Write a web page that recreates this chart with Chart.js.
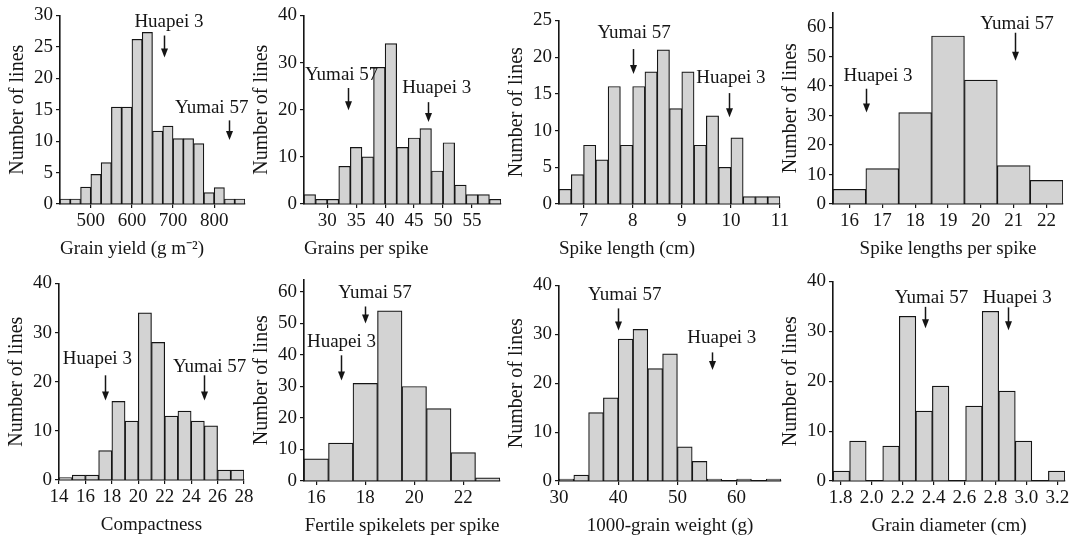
<!DOCTYPE html>
<html>
<head>
<meta charset="utf-8">
<script src="https://cdn.jsdelivr.net/npm/chart.js@4.4.1/dist/chart.umd.min.js"></script>
<style>
    html, body { margin: 0; padding: 0; background: #fff; overflow: hidden; }
    #wrap { position: relative; width: 1075px; height: 537px; }
    #wrap canvas { position: absolute; }
</style>
</head>
<body>
<div id="wrap"></div>
<script>
// =============================================
// DATA (bin centres, counts, ticks, parent values)
// =============================================
const parentNames = ['Huapei 3', 'Yumai 57'];

// Grain yield (g m-2)
const yieldBins = [437.5, 462.5, 487.5, 512.5, 537.5, 562.5, 587.5, 612.5, 637.5, 662.5, 687.5, 712.5, 737.5, 762.5, 787.5, 812.5, 837.5, 862.5];
const yieldCounts = [0.8, 0.8, 2.7, 4.7, 6.6, 15.4, 15.4, 26.2, 27.3, 11.6, 12.4, 10.4, 10.4, 9.6, 1.8, 2.6, 0.8, 0.8];
const yieldXTicks = ['500', '600', '700', '800'];
const yieldYTicks = [0, 5, 10, 15, 20, 25, 30];
const yieldParents = [679, 837];

// Grains per spike
const grainsBins = [27, 29, 31, 33, 35, 37, 39, 41, 43, 45, 47, 49, 51, 53, 55, 57, 59];
const grainsCounts = [2, 1, 1, 8, 12, 10, 29, 34, 12, 14, 16, 7, 13, 4, 2, 2, 1];
const grainsXTicks = ['30', '35', '40', '45', '50', '55'];
const grainsYTicks = [0, 10, 20, 30, 40];
const grainsParents = [47.4, 33.6];

// Spike length (cm)
const spikeLenBins = [6.625, 6.875, 7.125, 7.375, 7.625, 7.875, 8.125, 8.375, 8.625, 8.875, 9.125, 9.375, 9.625, 9.875, 10.125, 10.375, 10.625, 10.875];
const spikeLenCounts = [2, 4, 8, 6, 16, 8, 16, 18, 21, 13, 18, 8, 12, 5, 9, 1, 1, 1];
const spikeLenXTicks = ['7', '8', '9', '10', '11'];
const spikeLenYTicks = [0, 5, 10, 15, 20, 25];
const spikeLenParents = [9.96, 8.0];

// Spike lengths per spike
const perSpikeBins = [16, 17, 18, 19, 20, 21, 22];
const perSpikeCounts = [5, 12, 31, 57, 42, 13, 8];
const perSpikeXTicks = ['16', '17', '18', '19', '20', '21', '22'];
const perSpikeYTicks = [0, 10, 20, 30, 40, 50, 60];
const perSpikeParents = [16.5, 21.03];

// Compactness
const compactBins = [14.5, 15.5, 16.5, 17.5, 18.5, 19.5, 20.5, 21.5, 22.5, 23.5, 24.5, 25.5, 26.5, 27.5];
const compactCounts = [0.5, 1, 1, 6, 16, 12, 34, 28, 13, 14, 12, 11, 2, 2];
const compactXTicks = ['14', '16', '18', '20', '22', '24', '26', '28'];
const compactYTicks = [0, 10, 20, 30, 40];
const compactParents = [17.5, 25.0];

// Fertile spikelets per spike
const fertileBins = [16, 17, 18, 19, 20, 21, 22, 23];
const fertileCounts = [7, 12, 31, 54, 30, 23, 9, 1];
const fertileXTicks = ['16', '18', '20', '22'];
const fertileYTicks = [0, 10, 20, 30, 40, 50, 60];
const fertileParents = [17.0, 18.0];

// 1000-grain weight (g)
const tgwBins = [31.25, 33.75, 36.25, 38.75, 41.25, 43.75, 46.25, 48.75, 51.25, 53.75, 56.25, 58.75, 61.25, 63.75, 66.25];
const tgwCounts = [0.4, 1.2, 14, 17, 29, 31, 23, 26, 7, 4, 0.4, 0, 0.4, 0, 0.4];
const tgwXTicks = ['30', '40', '50', '60'];
const tgwYTicks = [0, 10, 20, 30, 40];
const tgwParents = [55.9, 40.0];

// Grain diameter (cm)
const diamBins = [1.804, 1.911, 2.018, 2.125, 2.232, 2.339, 2.446, 2.554, 2.661, 2.768, 2.875, 2.982, 3.089, 3.196];
const diamCounts = [2, 8, 0, 7, 33, 14, 19, 0, 15, 34, 18, 8, 0, 2];
const diamXTicks = ['1.8', '2.0', '2.2', '2.4', '2.6', '2.8', '3.0', '3.2'];
const diamYTicks = [0, 10, 20, 30, 40];
const diamParents = [2.883, 2.343];

// =============================================
// PANEL LAYOUT (plot box in page px, axis ranges, label placement)
// marks: [labelX, labelY, arrowTop, arrowTip] per parent, in data units
// =============================================
const panels = [
    { bins: yieldBins, counts: yieldCounts, xTicks: yieldXTicks, yTicks: yieldYTicks, parents: yieldParents,
      xMin: 425, xMax: 875, yMax: 30, title: 'Grain yield (g m\u207B\u00B2)', align: 'start',
      box: [60, 15, 245, 204], marks: [[690, 28.9, 26.8, 23.3], [794, 15.2, 13.3, 10.2]] },
    { bins: grainsBins, counts: grainsCounts, xTicks: grainsXTicks, yTicks: grainsYTicks, parents: grainsParents,
      xMin: 26, xMax: 60, yMax: 40, title: 'Grains per spike', align: 'start',
      box: [304, 15, 501, 204], marks: [[48.9, 24.6, 21.6, 17.4], [32.5, 27.3, 24.6, 19.9]] },
    { bins: spikeLenBins, counts: spikeLenCounts, xTicks: spikeLenXTicks, yTicks: spikeLenYTicks, parents: spikeLenParents,
      xMin: 6.5, xMax: 11, yMax: 25, title: 'Spike length (cm)', align: 'start',
      box: [559, 20, 780, 204], marks: [[10.0, 17.1, 15.1, 11.8], [8.03, 23.3, 21.1, 17.7]] },
    { bins: perSpikeBins, counts: perSpikeCounts, xTicks: perSpikeXTicks, yTicks: perSpikeYTicks, parents: perSpikeParents,
      xMin: 15.5, xMax: 22.5, yMax: 65, title: 'Spike lengths per spike', align: 'center',
      box: [833, 12, 1063, 204], marks: [[16.87, 43.5, 39.1, 31.0], [21.1, 61.2, 58.1, 48.6]] },
    { bins: compactBins, counts: compactCounts, xTicks: compactXTicks, yTicks: compactYTicks, parents: compactParents,
      xMin: 14, xMax: 28, yMax: 40, title: 'Compactness', align: 'center',
      box: [59, 283, 244, 480], marks: [[16.9, 24.7, 21.3, 16.2], [25.4, 23.0, 21.3, 16.2]] },
    { bins: fertileBins, counts: fertileCounts, xTicks: fertileXTicks, yTicks: fertileYTicks, parents: fertileParents,
      xMin: 15.5, xMax: 23.5, yMax: 64, title: 'Fertile spikelets per spike', align: 'center',
      box: [304, 279, 500, 481], marks: [[17.03, 44.1, 39.9, 31.9], [18.4, 59.6, 55.4, 50.0]] },
    { bins: tgwBins, counts: tgwCounts, xTicks: tgwXTicks, yTicks: tgwYTicks, parents: tgwParents,
      xMin: 30, xMax: 67.5, yMax: 40, title: '1000-grain weight (g)', align: 'center',
      box: [559, 285, 781, 481], marks: [[57.5, 29.2, 26.3, 22.7], [41.1, 38.0, 35.3, 30.8]] },
    { bins: diamBins, counts: diamCounts, xTicks: diamXTicks, yTicks: diamYTicks, parents: diamParents,
      xMin: 1.75, xMax: 3.25, yMax: 40, title: 'Grain diameter (cm)', align: 'center',
      box: [833, 281, 1065, 481], marks: [[2.941, 36.6, 34.8, 30.2], [2.387, 36.6, 34.9, 30.6]] }
];

const Y_AXIS_W = 60;   // room for y ticks + title
const X_AXIS_H = 60;   // room for x ticks + title
const PAD_TOP = 14;
const PAD_RIGHT = 14;
const INK = '#151515';
const FONT = { family: '"Liberation Serif", "Times New Roman", serif', size: 19 };
const Y_TITLE_FONT = { family: '"Liberation Serif", "Times New Roman", serif', size: 20 };

// Draw parent labels with down arrows
const parentArrows = {
    id: 'parentArrows',
    afterDatasetsDraw(chart, args, opts) {
        const { ctx, scales: { x, y } } = chart;
        ctx.save();
        ctx.font = '19px "Liberation Serif", serif';
        ctx.fillStyle = INK;
        ctx.strokeStyle = INK;
        ctx.textAlign = 'center';
        ctx.textBaseline = 'middle';
        opts.parents.forEach((value, i) => {
            const [lx, ly, top, tip] = opts.marks[i];
            ctx.fillText(parentNames[i], x.getPixelForValue(lx), y.getPixelForValue(ly));

            const ax = Math.round(x.getPixelForValue(value)) + 0.5;
            const y0 = y.getPixelForValue(top);
            const y1 = y.getPixelForValue(tip);
            ctx.lineWidth = 1.5;
            ctx.beginPath();
            ctx.moveTo(ax, y0);
            ctx.lineTo(ax, y1 - 6);
            ctx.stroke();
            ctx.beginPath();
            ctx.moveTo(ax - 3.5, y1 - 9);
            ctx.lineTo(ax + 3.5, y1 - 9);
            ctx.lineTo(ax, y1);
            ctx.closePath();
            ctx.fill();
        });
        ctx.restore();
    }
};

const wrap = document.getElementById('wrap');

panels.forEach(p => {
    const [L, T, R, B] = p.box;
    const canvas = document.createElement('canvas');
    canvas.width = R - L + Y_AXIS_W + PAD_RIGHT;
    canvas.height = B - T + PAD_TOP + X_AXIS_H;
    canvas.style.left = (L - Y_AXIS_W) + 'px';
    canvas.style.top = (T - PAD_TOP) + 'px';
    wrap.appendChild(canvas);

    new Chart(canvas, {
        type: 'bar',
        data: {
            datasets: [{
                data: p.bins.map((b, i) => ({ x: b, y: p.counts[i] })),
                backgroundColor: '#d3d3d3',
                borderColor: INK,
                borderWidth: 1.2,
                borderSkipped: 'start',
                barPercentage: 1,
                categoryPercentage: 1
            }]
        },
        options: {
            responsive: false,
            animation: false,
            events: [],
            layout: { padding: { left: 0, top: PAD_TOP, right: PAD_RIGHT, bottom: 0 } },
            plugins: {
                legend: { display: false },
                tooltip: { enabled: false },
                parentArrows: { parents: p.parents, marks: p.marks }
            },
            scales: {
                x: {
                    type: 'linear',
                    min: p.xMin,
                    max: p.xMax,
                    offset: false,
                    afterBuildTicks: s => { s.ticks = p.xTicks.map(t => ({ value: parseFloat(t) })); },
                    afterFit: s => { s.height = X_AXIS_H; },
                    grid: { display: true, offset: false, drawOnChartArea: false, drawTicks: true, tickLength: 4, color: INK, lineWidth: 1.2 },
                    border: { display: true, color: INK, width: 1.6 },
                    ticks: {
                        font: FONT, color: INK, padding: 2, autoSkip: false, maxRotation: 0,
                        callback: (v, i) => p.xTicks[i]
                    },
                    title: { display: true, text: p.title, align: p.align, font: FONT, color: INK, padding: { top: 0, bottom: 4 } }
                },
                y: {
                    min: 0,
                    max: p.yMax,
                    afterBuildTicks: s => { s.ticks = p.yTicks.map(v => ({ value: v })); },
                    afterFit: s => { s.width = Y_AXIS_W; },
                    grid: { display: true, drawOnChartArea: false, drawTicks: true, tickLength: 4, color: INK, lineWidth: 1.2 },
                    border: { display: true, color: INK, width: 1.6 },
                    ticks: { font: FONT, color: INK, padding: 3, callback: v => String(v) },
                    title: { display: true, text: 'Number of lines', font: Y_TITLE_FONT, color: INK, padding: { top: 6, bottom: 0 } }
                }
            }
        },
        plugins: [parentArrows]
    });
});
</script>
</body>
</html>
